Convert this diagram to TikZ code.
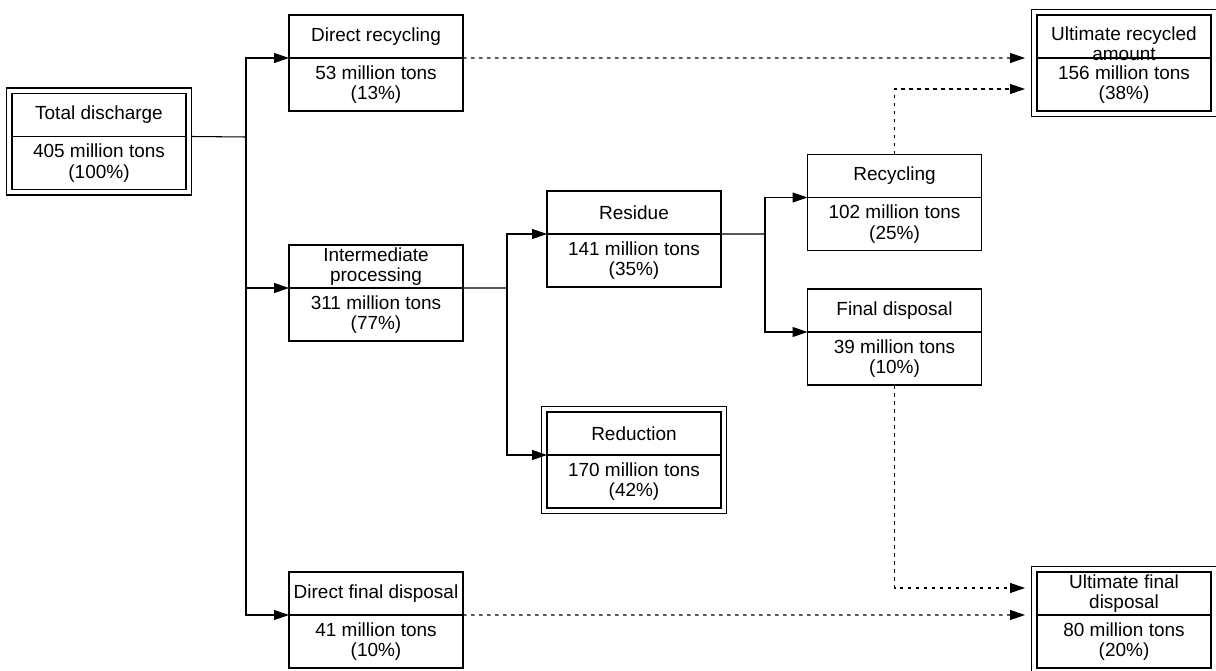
\documentclass[tikz,border=0pt]{standalone}
\usepackage{fontspec}
\setmainfont{Liberation Sans}
\usetikzlibrary{arrows.meta, positioning, fit}

\begin{document}
\begin{tikzpicture}[
  x=0.2mm, y=-0.2mm,
  font=\fontsize{10.8}{11.6}\selectfont,
  hdr/.style={rectangle, draw=black, line width=0.9pt, minimum width=3.48cm, minimum height=0.86cm, inner sep=1pt, outer sep=0pt, align=center},
  qty/.style={hdr, minimum height=1.06cm},
  outer/.style={rectangle, draw=black, line width=0.9pt, inner sep=1.1mm, outer sep=0pt},
  link/.style={line width=0.6pt},
  flow/.style={link, -{Triangle[length=3mm, width=2mm]}},
  dots/.style={flow, dash pattern=on 0.7mm off 0.9mm},
  node distance=0cm,
]
\useasboundingbox (0,0) rectangle (1216,671);

% source
\node[hdr] (tdh) at (99,115) {Total discharge};
\node[qty, below=of tdh] (tdv) {405 million tons\\(100\%)};
\node[outer, fit=(tdh)(tdv)] (tdo) {};

% first split
\node[hdr] (drh) at (376,36.5) {Direct recycling};
\node[qty, below=of drh] (drv) {53 million tons\\(13\%)};
\node[hdr] (iph) at (376,266.5) {Intermediate\\processing};
\node[qty, below=of iph] (ipv) {311 million tons\\(77\%)};
\node[hdr] (dfh) at (376,593.5) {Direct final disposal};
\node[qty, below=of dfh] (dfv) {41 million tons\\(10\%)};

% processing
\node[hdr] (rsh) at (634,212.5) {Residue};
\node[qty, below=of rsh] (rsv) {141 million tons\\(35\%)};
\node[hdr] (rdh) at (634,433.5) {Reduction};
\node[qty, below=of rdh] (rdv) {170 million tons\\(42\%)};
\node[outer, fit=(rdh)(rdv)] (rdo) {};

\node[hdr] (rch) at (894.5,176) {Recycling};
\node[qty, below=of rch] (rcv) {102 million tons\\(25\%)};
\node[hdr] (fdh) at (894.5,310.5) {Final disposal};
\node[qty, below=of fdh] (fdv) {39 million tons\\(10\%)};

% totals
\node[hdr] (urh) at (1124,36.5) {\raisebox{-3mm}[0pt][0pt]{\begin{tabular}{@{}c@{}}Ultimate recycled\\amount\end{tabular}}};
\node[qty, below=of urh] (urv) {156 million tons\\(38\%)};
\node[outer, fit=(urh)(urv)] (uro) {};
\node[hdr] (ufh) at (1124,593.5) {Ultimate final\\disposal};
\node[qty, below=of ufh] (ufv) {80 million tons\\(20\%)};
\node[outer, fit=(ufh)(ufv)] (ufo) {};

\coordinate (j1) at (246,137);
\coordinate (j2) at (507,288);
\coordinate (j3) at (765,234);
\coordinate (ua1) at (1025,58);
\coordinate (ua2) at (1025,89);
\coordinate (ua3) at (1025,588);
\coordinate (ua4) at (1025,615);

\draw[link] (tdh.south -| tdo.east) -- (j1);
\draw[flow] (j1) |- (drh.south west);
\draw[flow] (j1) |- (iph.south west);
\draw[flow] (j1) |- (dfh.south west);
\draw[link] (iph.south east) -- (j2);
\draw[flow] (j2) |- (rsh.south west);
\draw[flow] (j2) |- (rdh.south west);
\draw[link] (rsh.south east) -- (j3);
\draw[flow] (j3) |- (rch.south west);
\draw[flow] (j3) |- (fdh.south west);

\draw[dots] (drh.south east) -- (ua1);
\draw[dots] (rch.north) |- (ua2);
\draw[dots] (fdv.south) |- (ua3);
\draw[dots] (dfh.south east) -- (ua4);
\end{tikzpicture}
\end{document}
